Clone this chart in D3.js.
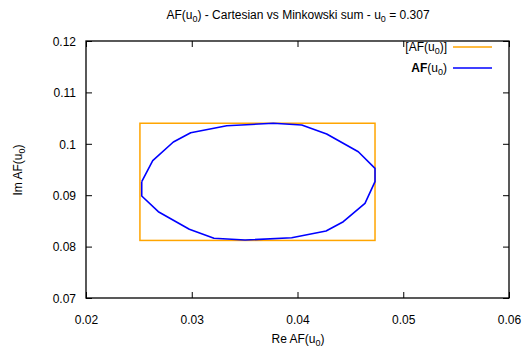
<!DOCTYPE html>
<html>
<head>
<meta charset="utf-8">
<script src="https://cdn.jsdelivr.net/npm/d3@7"></script>
<style>
  body { margin: 0; background: #fff; }
  text { font-family: "Liberation Sans", Arial, sans-serif; }
</style>
</head>
<body>
<script>
// interval hull [AF(u0)] (Cartesian box)
const boxRe = [0.0251, 0.04733]
const boxIm = [0.0812, 0.1040]

// Minkowski sum outline AF(u0)
const sumRe = [0.02527, 0.02631, 0.02826, 0.02990, 0.03331, 0.03771, 0.04040, 0.04276, 0.04575, 0.04733,
  0.04733, 0.04638, 0.04433, 0.04270, 0.03945, 0.03504, 0.03210, 0.02977, 0.02684, 0.02527, 0.02527]
const sumIm = [0.09263, 0.09671, 0.10035, 0.10216, 0.10352, 0.10399, 0.10366, 0.10191, 0.09846, 0.09523,
  0.09263, 0.08842, 0.08484, 0.08304, 0.08173, 0.08128, 0.08161, 0.08337, 0.08679, 0.08984, 0.09263]

const xTicks = [0.02, 0.03, 0.04, 0.05, 0.06]
const yTicks = [0.07, 0.08, 0.09, 0.1, 0.11, 0.12]

const W = 525, H = 354
const mLeft = 86, mRight = 509, mTop = 41, mBottom = 298

const svg = d3.select('body').append('svg')
    .attr('width', W)
    .attr('height', H)

const x = d3.scaleLinear().domain([0.02, 0.06]).range([mLeft, mRight])
const y = d3.scaleLinear().domain([0.07, 0.12]).range([mBottom, mTop])

// helper: text with subscript 0
function sub(sel, before, after, bold) {
    const a = sel.append('tspan').text(before)
    if (bold) a.attr('font-weight', 'bold')
    sel.append('tspan').text('(u')
    sel.append('tspan').attr('font-size', '9px').attr('dy', 3).text('0')
    sel.append('tspan').attr('dy', -3).text(after)
}

// title
const title = svg.append('text')
    .attr('x', 298).attr('y', 19)
    .attr('text-anchor', 'middle')
    .style('font-size', '12px')
sub(title, 'AF', ') - Cartesian vs Minkowski sum - u')
title.append('tspan').attr('font-size', '9px').attr('dy', 3).text('0')
title.append('tspan').attr('dy', -3).text(' = 0.307')

// ticks (inward, mirrored)
const tl = 6
const axB = d3.axisBottom(x).tickValues(xTicks).tickSizeInner(-tl).tickSizeOuter(0).tickPadding(17)
    .tickFormat(d3.format('.2~f'))
const axL = d3.axisLeft(y).tickValues(yTicks).tickSizeInner(-tl).tickSizeOuter(0).tickPadding(10)
    .tickFormat(d3.format('.2~f'))
const axT = d3.axisTop(x).tickValues(xTicks).tickSizeInner(-tl).tickSizeOuter(0).tickFormat('')
const axR = d3.axisRight(y).tickValues(yTicks).tickSizeInner(-tl).tickSizeOuter(0).tickFormat('')

function styleAxis(g) {
    g.select('.domain').remove()
    g.selectAll('line').attr('stroke', '#000').attr('stroke-width', 1)
    g.selectAll('text').attr('fill', '#000').style('font-size', '12px')
        .style('font-family', '"Liberation Sans", Arial, sans-serif')
}
svg.append('g').attr('transform', `translate(0,${mBottom})`).call(axB).call(styleAxis)
const gl = svg.append('g').attr('transform', `translate(${mLeft},0)`).call(axL).call(styleAxis)
gl.selectAll('text').attr('dy', '0.35em')
svg.append('g').attr('transform', `translate(0,${mTop})`).call(axT).call(styleAxis)
svg.append('g').attr('transform', `translate(${mRight},0)`).call(axR).call(styleAxis)

// box
svg.append('rect')
    .attr('x', x(boxRe[0])).attr('y', y(boxIm[1]))
    .attr('width', x(boxRe[1]) - x(boxRe[0]))
    .attr('height', y(boxIm[0]) - y(boxIm[1]))
    .attr('fill', 'none')
    .attr('stroke', '#ffa500')
    .attr('stroke-width', 1.5)

// Minkowski sum
const pts = sumRe.map((d, i) => [d, sumIm[i]])
svg.append('path')
    .datum(pts)
    .attr('d', d3.line().x(d => x(d[0])).y(d => y(d[1])))
    .attr('fill', 'none')
    .attr('stroke', '#0000ff')
    .attr('stroke-width', 1.6)
    .attr('stroke-linejoin', 'round')

// frame
svg.append('rect')
    .attr('x', mLeft).attr('y', mTop)
    .attr('width', mRight - mLeft).attr('height', mBottom - mTop)
    .attr('fill', 'none').attr('stroke', '#000').attr('stroke-width', 1.3)

// legend
const lg = svg.append('g').style('font-size', '12px')
const l1 = lg.append('text').attr('x', 447).attr('y', 51).attr('text-anchor', 'end')
l1.append('tspan').text('[AF(u')
l1.append('tspan').attr('font-size', '9px').attr('dy', 3).text('0')
l1.append('tspan').attr('dy', -3).text(')]')
lg.append('line').attr('x1', 453).attr('x2', 492).attr('y1', 47).attr('y2', 47)
    .attr('stroke', '#ffa500').attr('stroke-width', 1.5)
const l2 = lg.append('text').attr('x', 447).attr('y', 72).attr('text-anchor', 'end')
sub(l2, 'AF', ')', true)
lg.append('line').attr('x1', 453).attr('x2', 492).attr('y1', 68).attr('y2', 68)
    .attr('stroke', '#0000ff').attr('stroke-width', 1.6)

// axis labels
const xl = svg.append('text').attr('x', 298).attr('y', 343)
    .attr('text-anchor', 'middle').style('font-size', '12px')
sub(xl, 'Re AF', ')')
const yl = svg.append('text')
    .attr('transform', 'translate(22,170) rotate(-90)')
    .attr('text-anchor', 'middle').style('font-size', '12px')
sub(yl, 'Im AF', ')')
</script>
</body>
</html>
